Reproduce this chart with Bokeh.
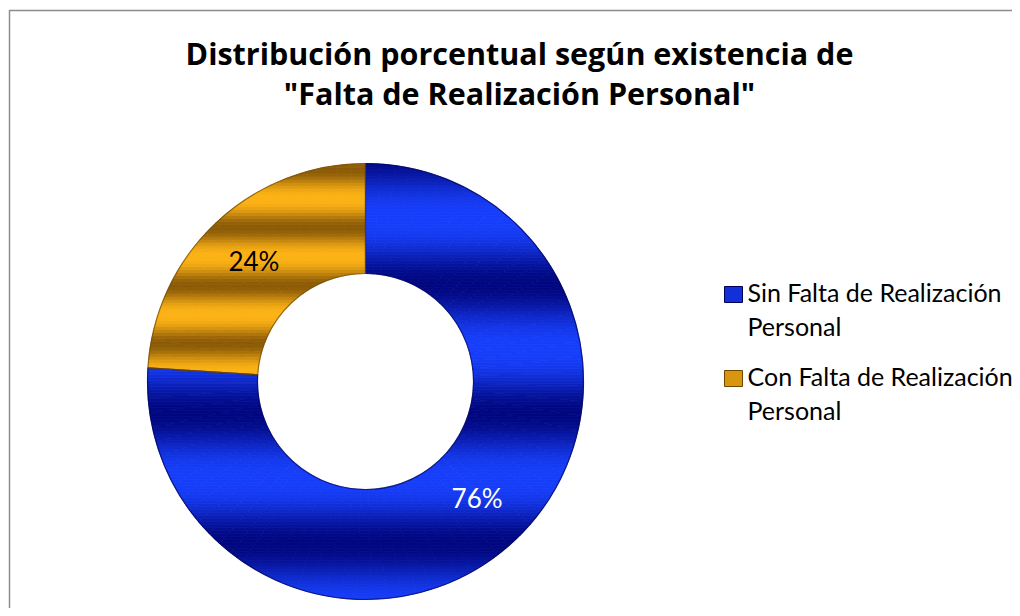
import numpy as np
from bokeh.plotting import figure
from bokeh.models import Range1d
from bokeh.core.properties import value
from bokeh.embed import file_html
from bokeh.resources import INLINE

# ---------------- data ----------------
title_lines = ["Distribución porcentual según existencia de",
               "\"Falta de Realización Personal\""]
categories = ["Sin Falta de Realización Personal",
              "Con Falta de Realización Personal"]
percents = [76, 24]

# ---------------- styles ----------------
bright_cols = [(22, 62, 250), (252, 178, 20)]
dark_cols = [(0, 6, 128), (140, 90, 6)]
edge_cols = ["#00005a", "#6e4800"]
swatch_cols = ["#1230d8", "#d8960e"]
label_cols = ["white", "black"]
stripe_dark_y = [283, 227]     # page-y of a dark reflection band
stripe_period = [130, 58]

W, H = 1012, 608
p = figure(width=W, height=H, x_range=Range1d(0, W), y_range=Range1d(0, H),
           output_backend="svg", toolbar_location=None, min_border=0)
p.axis.visible = False
p.grid.visible = False
p.outline_line_color = None
p.background_fill_color = "white"
p.border_fill_color = "white"


def Y(py):
    """convert a top-down pixel position to the data y used here"""
    return H - py


# frame of the chart area
p.quad(left=9, right=W + 50, top=Y(10), bottom=-50, fill_color=None,
       line_color="#8c8c8c", line_width=1.5)

cx, cy = 365, Y(381)
r_out, r_in = 218, 108

vals = np.array(percents, dtype=float)
fr = vals / vals.sum()
ends = np.cumsum(fr)
starts = ends - fr
a_start = np.pi / 2 - 2 * np.pi * starts
a_end = np.pi / 2 - 2 * np.pi * ends


def clip(poly, y0, above):
    out = []
    n = len(poly)
    for i in range(n):
        cur = poly[i]
        prev = poly[i - 1]
        cin = cur[1] >= y0 if above else cur[1] <= y0
        pin = prev[1] >= y0 if above else prev[1] <= y0
        if cin != pin:
            t = (y0 - prev[1]) / (cur[1] - prev[1])
            out.append((prev[0] + t * (cur[0] - prev[0]), y0))
        if cin:
            out.append(cur)
    return out


def hexcol(c):
    return "#%02x%02x%02x" % tuple(int(round(v)) for v in c)


step = 3.0
xs, ys, cols = [], [], []
for k in range(len(vals)):
    span = a_start[k] - a_end[k]
    nsub = max(2, int(np.ceil(np.degrees(span) / 4.0)))
    edges = np.linspace(a_start[k], a_end[k], nsub + 1)
    for s in range(nsub):
        th = np.linspace(edges[s], edges[s + 1], 6)
        outer = list(zip(cx + r_out * np.cos(th), cy + r_out * np.sin(th)))
        inner = list(zip(cx + r_in * np.cos(th[::-1]), cy + r_in * np.sin(th[::-1])))
        poly = outer + inner
        ymin = min(q[1] for q in poly)
        ymax = max(q[1] for q in poly)
        yb = np.floor((ymin - (cy - r_out)) / step) * step + (cy - r_out)
        while yb < ymax:
            piece = clip(clip(poly, yb, True), yb + step, False)
            if len(piece) >= 3:
                ym = yb + step / 2
                t = 0.5 + 0.5 * np.cos(2 * np.pi * (ym - Y(stripe_dark_y[k])) / stripe_period[k])
                t = t ** 1.3
                c = [bright_cols[k][j] * (1 - t) + dark_cols[k][j] * t for j in range(3)]
                xs.append([q[0] for q in piece])
                ys.append([q[1] for q in piece])
                cols.append(hexcol(c))
            yb += step

p.patches(xs, ys, fill_color=cols, line_color=cols, line_width=0.7)

# bevel edges
p.annular_wedge(x=cx, y=cy, inner_radius=r_in, outer_radius=r_out,
                start_angle=list(a_start), end_angle=list(a_end), direction="clock",
                fill_color=None, line_color=edge_cols, line_alpha=0.7, line_width=1.2)

# data labels
r_mid = (r_in + r_out) / 2
mid = np.pi / 2 - 2 * np.pi * (starts + fr / 2)
lab_text = ["%d%%" % round(100 * f) for f in fr]
p.text(x=list(cx + r_mid * np.cos(mid)), y=list(cy + r_mid * np.sin(mid) + 2),
       text=lab_text, text_color=label_cols, text_font=value("Lato"),
       text_font_size="26px", text_align="center", text_baseline="middle")

# title (the svg text sits ~0.42em below its anchor, so the anchor is raised)
title_size = 30.5
tshift = 0.42 * title_size
p.text(x=[519, 519], y=[Y(65 - tshift), Y(105 - tshift)], text=title_lines,
       text_font=value("Open Sans"), text_font_style="bold",
       text_font_size="%.1fpx" % title_size, text_color="black",
       text_align="center", text_baseline="alphabetic")

# legend
leg_size = 25
lshift = 0.42 * leg_size
leg_x, item_gap, line_gap = 747, 84, 34
sq_y = [Y(294 + item_gap * i) for i in range(len(categories))]
p.rect(x=[733] * len(categories), y=sq_y, width=18, height=16,
       fill_color=swatch_cols, line_color=edge_cols, line_width=1)
tx, ty, tt = [], [], []
for i, cat in enumerate(categories):
    head, tail = cat.rsplit(" ", 1)
    for j, line in enumerate([head, tail]):
        tx.append(leg_x)
        ty.append(Y(302 + item_gap * i + line_gap * j - lshift))
        tt.append(line)
p.text(x=tx, y=ty, text=tt, text_font=value("Lato"), text_font_size="%dpx" % leg_size,
       text_color="black", text_align="left", text_baseline="alphabetic")

open("out.html", "w").write(file_html(p, INLINE))
